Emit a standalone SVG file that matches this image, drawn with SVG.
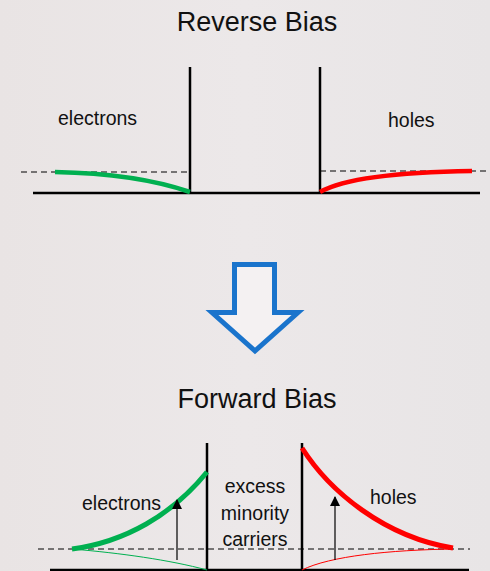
<svg xmlns="http://www.w3.org/2000/svg" width="490" height="571" viewBox="0 0 490 571">
<defs>
<style>
.t{font-family:"Liberation Sans",Arial,sans-serif;fill:#111;}
.title{font-size:27px;}
.lbl{font-size:19.5px;}
.ax{stroke:#000;stroke-width:2.5;fill:none;}
.dash{stroke:#000;stroke-width:1;stroke-dasharray:6,4;fill:none;}
.g{stroke:#00B050;fill:none;}
.r{stroke:#FF0000;fill:none;}
.arr{stroke:#000;stroke-width:1.2;fill:none;}
</style>
<marker id="ah" markerWidth="10" markerHeight="10" viewBox="0 0 10 10" refX="9" refY="5" orient="auto" markerUnits="userSpaceOnUse">
<path d="M0,0 L10,5 L0,10 Z" fill="#000"/>
</marker>
<linearGradient id="bg" x1="0" y1="0" x2="1" y2="0">
<stop offset="0" stop-color="#e9e4e4"/>
<stop offset="0.5" stop-color="#ece8e9"/>
<stop offset="1" stop-color="#e8e5e6"/>
</linearGradient>
</defs>
<rect width="490" height="571" fill="url(#bg)"/>

<g id="reverse-title"><text class="t title" x="257" y="31" text-anchor="middle">Reverse Bias</text></g>

<g id="reverse-axes">
<line class="ax" x1="33" y1="193" x2="480" y2="193"/>
<line class="ax" x1="190" y1="67" x2="190" y2="193"/>
<line class="ax" x1="320" y1="67" x2="320" y2="193"/>
<line class="dash" x1="21" y1="172" x2="190" y2="172"/>
<line class="dash" x1="320" y1="171" x2="489" y2="171"/>
</g>
<g id="reverse-electrons">
<text class="t lbl" x="58" y="125">electrons</text>
<path class="g" stroke-width="4.5" d="M55,172 C110,173 155,180 190,192"/>
</g>
<g id="reverse-holes">
<text class="t lbl" x="388" y="127">holes</text>
<path class="r" stroke-width="4.5" d="M320,192 C345,178 400,172 472,171"/>
</g>

<g id="down-arrow">
<path d="M234.5,264.5 L274.5,264.5 L274.5,312.5 L298,312.5 L255,351 L212,312.5 L234.5,312.5 Z" fill="#f4f1f2" stroke="#1a74cc" stroke-width="5" stroke-linejoin="miter"/>
</g>

<g id="forward-title"><text class="t title" x="257" y="408" text-anchor="middle">Forward Bias</text></g>

<g id="forward-axes">
<line class="ax" x1="50" y1="570" x2="469" y2="570"/>
<line class="ax" x1="207" y1="443" x2="207" y2="571"/>
<line class="ax" x1="302" y1="443" x2="302" y2="571"/>
<line class="dash" x1="38" y1="549" x2="470" y2="549"/>
</g>
<g id="forward-electrons">
<text class="t lbl" x="82" y="510">electrons</text>
<path class="g" stroke-width="5" d="M72,549 C125,542 172,515 207,472"/>
<path class="g" stroke-width="1" d="M72,549 C120,553 170,560 207,570"/>
</g>
<g id="forward-middle">
<text class="t lbl" x="255" y="493" text-anchor="middle">excess</text>
<text class="t lbl" x="255" y="520" text-anchor="middle">minority</text>
<text class="t lbl" x="255" y="546" text-anchor="middle">carriers</text>
</g>
<g id="forward-holes">
<text class="t lbl" x="370" y="504">holes</text>
<path class="r" stroke-width="5" d="M302,448 C330,492 385,537 453,548"/>
<path class="r" stroke-width="1" d="M302,570 C330,556 390,550 453,549"/>
</g>

<g id="connectors">
<line class="arr" x1="177" y1="560" x2="177" y2="500" marker-end="url(#ah)"/>
<line class="arr" x1="335" y1="560" x2="335" y2="497" marker-end="url(#ah)"/>
</g>
</svg>
